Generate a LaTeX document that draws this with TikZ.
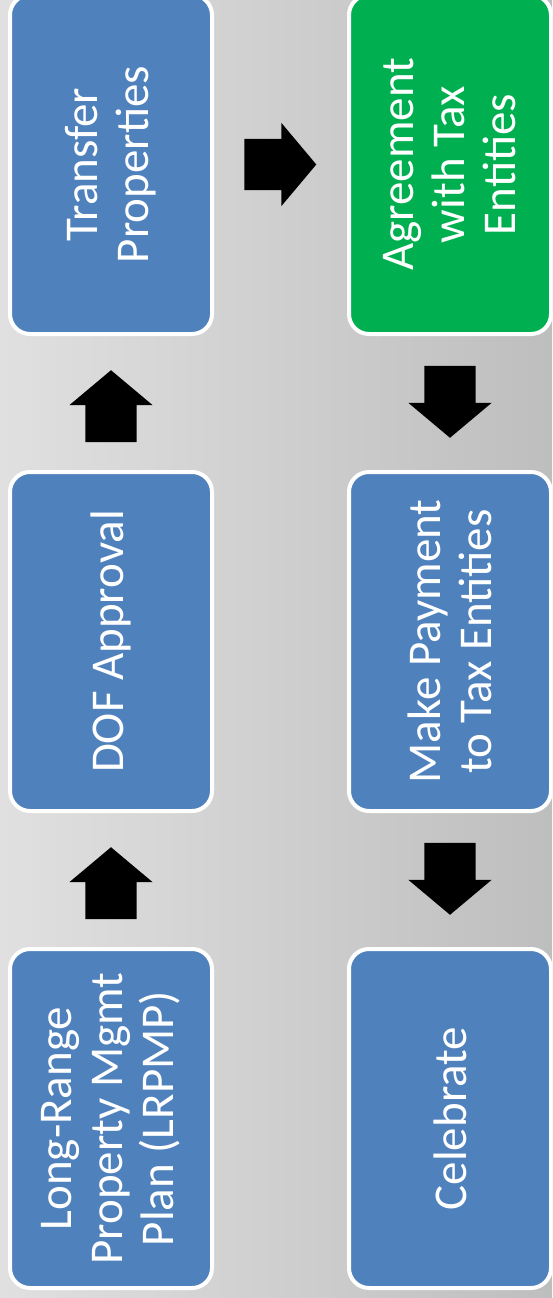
\documentclass[tikz,border=0pt]{standalone}
\usepackage{fontspec}
\setmainfont{Carlito}
\usetikzlibrary{shapes.arrows,calc,positioning}
\definecolor{stepblue}{RGB}{79,129,189}
\definecolor{stepgreen}{RGB}{0,176,80}
\definecolor{bgleft}{RGB}{224,224,224}
\definecolor{bgright}{RGB}{190,190,190}

\begin{document}
\begin{tikzpicture}[x=1pt,y=-1pt,
    main node/.style={rectangle,rounded corners=20pt,draw=white,line width=4pt,fill=stepblue,
      rotate=90,minimum width=339pt,minimum height=202pt,inner sep=0pt,text=white,align=center,
      font=\fontsize{47}{51}\selectfont},
    block arrow/.style={single arrow,fill=black,draw=none,inner xsep=0pt,inner ysep=25.5pt,
      minimum height=72pt,single arrow head extend=16pt,single arrow tip angle=100}]

  \clip (0,0) rectangle (552,1298);
  \shade[left color=bgleft,right color=bgright] (0,0) rectangle (552,1298);

  % left column, read bottom to top
  \node[main node] (lrpmp) at (111,1118.5) {Long-Range\\Property Mgmt\\Plan (LRPMP)};
  \node[main node] (dof) at (111,641.5) {DOF Approval};
  \node[main node] (transfer) at (111,164.5) {Transfer\\Properties};

  % right column, read top to bottom
  \node[main node,fill=stepgreen] (agreement) at (450,164.5) {Agreement\\with Tax\\Entities};
  \node[main node] (payment) at (450,641.5) {Make Payment\\to Tax Entities};
  \node[main node] (celebrate) at (450,1118.5) {Celebrate};

  % block arrows between the boxes (center sits 12pt off toward the tip)
  \node[block arrow,rotate=90] (a1) at ($($(lrpmp)!0.5!(dof)$)+(0,14)$) {};
  \node[block arrow,rotate=90] (a2) at ($($(dof)!0.5!(transfer)$)+(0,14)$) {};
  \node[block arrow] (a3) at ($($(transfer)!0.5!(agreement)$)+(-11,0)$) {};
  \node[block arrow,rotate=-90] (a4) at ($($(agreement)!0.5!(payment)$)+(0,-12)$) {};
  \node[block arrow,rotate=-90] (a5) at ($($(payment)!0.5!(celebrate)$)+(0,-12)$) {};

\end{tikzpicture}
\end{document}
